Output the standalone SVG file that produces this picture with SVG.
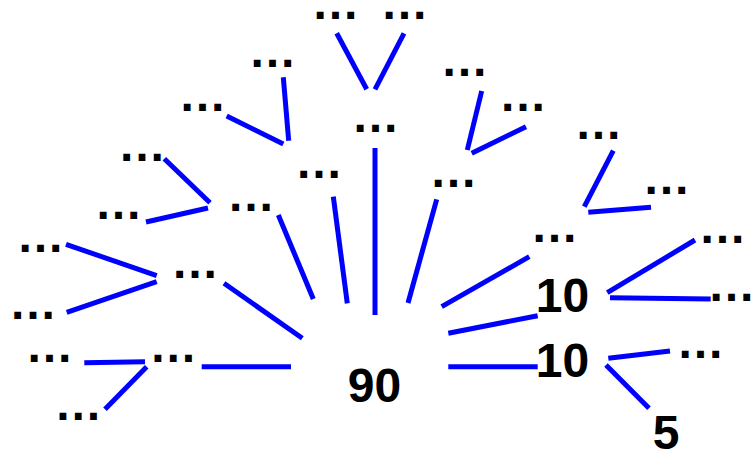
<svg xmlns="http://www.w3.org/2000/svg" width="751" height="450" viewBox="0 0 751 450">
<style>
.l line{stroke:#0000ff;stroke-width:5;stroke-linecap:butt}
text{font-family:"Liberation Sans",Arial,sans-serif;font-weight:bold;font-size:48px;fill:#000;text-anchor:middle}
</style>
<rect width="751" height="450" fill="#fff"/>
<g id="connectors" class="l">
<line x1="201.7" y1="366.7" x2="291" y2="366.7"/>
<line x1="224" y1="283.3" x2="302.3" y2="338.3"/>
<line x1="278.3" y1="215" x2="313.3" y2="299"/>
<line x1="333.3" y1="196.7" x2="347.3" y2="303.3"/>
<line x1="375" y1="148" x2="375" y2="315"/>
<line x1="436.7" y1="199.3" x2="408" y2="303"/>
<line x1="441.7" y1="306.7" x2="529.3" y2="256.7"/>
<line x1="448.3" y1="333.3" x2="537.7" y2="315.7"/>
<line x1="448.3" y1="366.7" x2="537.7" y2="366.7"/>
<line x1="84.3" y1="362.7" x2="145" y2="361.7"/>
<line x1="146.7" y1="366.7" x2="105" y2="409.3"/>
<line x1="66" y1="244.3" x2="156.7" y2="275.7"/>
<line x1="66.7" y1="312.3" x2="156.7" y2="281.7"/>
<line x1="164.3" y1="158.7" x2="210" y2="202.7"/>
<line x1="146" y1="222" x2="208" y2="208"/>
<line x1="283.3" y1="77.3" x2="288.7" y2="140.7"/>
<line x1="226.7" y1="116" x2="283.3" y2="144"/>
<line x1="336.7" y1="33.3" x2="366.7" y2="89.3"/>
<line x1="404" y1="33.3" x2="375" y2="89.3"/>
<line x1="481.7" y1="91" x2="467.3" y2="150"/>
<line x1="526" y1="126.7" x2="471.7" y2="153.3"/>
<line x1="613.3" y1="150.7" x2="584.3" y2="206.7"/>
<line x1="651" y1="207.3" x2="588.3" y2="212.3"/>
<line x1="607.3" y1="292.7" x2="695" y2="240"/>
<line x1="610" y1="297.7" x2="710.7" y2="299"/>
<line x1="608.3" y1="358.3" x2="670" y2="351"/>
<line x1="606" y1="365" x2="649" y2="408.3"/>
</g>
<g id="n-root"><text x="374.5" y="401.5">90</text></g>
<g id="n-10a"><text x="562.5" y="312">10</text></g>
<g id="n-10b"><text x="562.5" y="377">10</text></g>
<g id="n-5"><text x="666" y="448.5">5</text></g>
<g id="n-a"><text x="335.5" y="19.3">…</text></g>
<g id="n-b"><text x="404.5" y="19.3">…</text></g>
<g id="n-c"><text x="375.5" y="131.7">…</text></g>
<g id="n-d"><text x="272.5" y="66.7">…</text></g>
<g id="n-e"><text x="202.5" y="111">…</text></g>
<g id="n-f"><text x="142" y="160.7">…</text></g>
<g id="n-g"><text x="319" y="177.7">…</text></g>
<g id="n-h"><text x="251" y="210.7">…</text></g>
<g id="n-i"><text x="118.5" y="218.7">…</text></g>
<g id="n-j"><text x="464.5" y="75.7">…</text></g>
<g id="n-k"><text x="523" y="110.7">…</text></g>
<g id="n-l"><text x="453.5" y="186.7">…</text></g>
<g id="n-m"><text x="598.5" y="139.3">…</text></g>
<g id="n-n"><text x="666.5" y="193.7">…</text></g>
<g id="n-o"><text x="554.5" y="242.3">…</text></g>
<g id="n-p"><text x="40.5" y="251.7">…</text></g>
<g id="n-q"><text x="195" y="278.3">…</text></g>
<g id="n-r"><text x="33" y="319.3">…</text></g>
<g id="n-s"><text x="49.5" y="361.7">…</text></g>
<g id="n-t"><text x="173.3" y="361.7">…</text></g>
<g id="n-u"><text x="78.3" y="419.7">…</text></g>
<g id="n-v"><text x="722.5" y="243.3">…</text></g>
<g id="n-w"><text x="731.5" y="301">…</text></g>
<g id="n-x"><text x="700.5" y="357.7">…</text></g>
</svg>
